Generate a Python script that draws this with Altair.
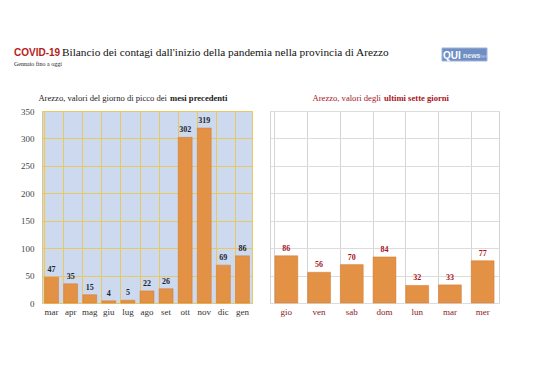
import altair as alt
import pandas as pd

months = ["mar", "apr", "mag", "giu", "lug", "ago", "set", "ott", "nov", "dic", "gen"]
month_vals = [47, 35, 15, 4, 5, 22, 26, 302, 319, 69, 86]
days = ["gio", "ven", "sab", "dom", "lun", "mar", "mer"]
day_vals = [86, 56, 70, 84, 32, 33, 77]
y_ticks = [0, 50, 100, 150, 200, 250, 300, 350]

SERIF = "Liberation Serif"
BAR = "#e39145"
RED = "#a8141c"

dm = pd.DataFrame({"mese": months, "valore": month_vals})
dd = pd.DataFrame({"giorno": days, "valore": day_vals})


def one(t):
    return pd.DataFrame({"t": [t]})


# ---------- left panel ----------
xl = alt.X("mese:N", sort=months, title=None,
           scale=alt.Scale(paddingInner=0.27, paddingOuter=0.135),
           axis=alt.Axis(labelAngle=0, labelFont=SERIF, labelFontSize=9, labelColor="#333",
                         labelPadding=4, ticks=False, domain=False, grid=True, bandPosition=0,
                         gridColor="#e8c860", gridWidth=1))
yl = alt.Y("valore:Q", title=None,
           scale=alt.Scale(domain=[0, 350], nice=False),
           axis=alt.Axis(values=y_ticks, labelFont=SERIF, labelFontSize=9, labelColor="#444",
                         labelOverlap=False, ticks=False, domain=False,
                         gridColor="#e8c860", gridWidth=1, labelPadding=8))

base_l = alt.Chart(dm).encode(x=xl, y=yl)
bars_l = base_l.mark_bar(color=BAR, stroke="#d07a30", strokeWidth=0.5)
lab_l = base_l.mark_text(font=SERIF, fontSize=8, fontWeight="bold", color="#1c2530",
                         baseline="bottom", dy=-3).encode(text="valore:Q")

title_l1 = alt.Chart(one("Arezzo, valori del giorno di picco dei")).mark_text(
    font=SERIF, fontSize=8.6, color="#222", align="right", baseline="alphabetic").encode(
    text="t:N", x=alt.value(125), y=alt.value(-10))
title_l2 = alt.Chart(one("mesi precedenti")).mark_text(
    font=SERIF, fontSize=8.6, fontWeight="bold", color="#222", align="left", baseline="alphabetic").encode(
    text="t:N", x=alt.value(128), y=alt.value(-10))

head1 = alt.Chart(one("COVID-19")).mark_text(
    font="Liberation Sans", fontSize=10, fontWeight="bold", color="#b71c1c", align="left",
    baseline="alphabetic").encode(text="t:N", x=alt.value(-28), y=alt.value(-55))
head2 = alt.Chart(one("Bilancio dei contagi dall'inizio della pandemia nella provincia di Arezzo")).mark_text(
    font=SERIF, fontSize=11.3, color="#111", align="left", baseline="alphabetic").encode(
    text="t:N", x=alt.value(20), y=alt.value(-55))
head3 = alt.Chart(one("Gennaio fino a oggi")).mark_text(
    font=SERIF, fontSize=6, color="#222", align="left", baseline="alphabetic").encode(
    text="t:N", x=alt.value(-28), y=alt.value(-45))

logo_r = alt.Chart(one("")).mark_rect(color="#6f8fc4", stroke="#9fb3d8").encode(
    x=alt.value(400), x2=alt.value(445), y=alt.value(-63), y2=alt.value(-50))
logo_t1 = alt.Chart(one("QUI")).mark_text(
    font="Liberation Sans", fontSize=10, fontWeight="bold", color="white", align="left",
    baseline="alphabetic").encode(text="t:N", x=alt.value(401), y=alt.value(-52))
logo_t2 = alt.Chart(one("news")).mark_text(
    font="Liberation Sans", fontSize=7, fontWeight="bold", color="#e8eef8", align="left",
    baseline="alphabetic").encode(text="t:N", x=alt.value(421), y=alt.value(-53))
logo_t3 = alt.Chart(one("net")).mark_text(
    font="Liberation Sans", fontSize=6, color="#b8c8e6", align="left",
    baseline="alphabetic").encode(text="t:N", x=alt.value(437), y=alt.value(-53))

left = alt.layer(bars_l, lab_l, title_l1, title_l2, head1, head2, head3,
                 logo_r, logo_t1, logo_t2, logo_t3).properties(
    width=210, height=192,
    view=alt.ViewBackground(fill="#cdd9ee", stroke="#e8c860", strokeWidth=1))

# ---------- right panel ----------
xr = alt.X("giorno:N", sort=days, title=None,
           scale=alt.Scale(paddingInner=0.3, paddingOuter=0.15),
           axis=alt.Axis(labelAngle=0, labelFont=SERIF, labelFontSize=9, labelColor="#8b1a1a",
                         labelPadding=4, ticks=False, domain=False, grid=True, bandPosition=0,
                         gridColor="#d4d4d4", gridWidth=1))
yr = alt.Y("valore:Q", title=None,
           scale=alt.Scale(domain=[0, 350], nice=False),
           axis=alt.Axis(values=y_ticks, labels=False, ticks=False, domain=False,
                         gridColor="#dcdcdc", gridWidth=1))

base_r = alt.Chart(dd).encode(x=xr, y=yr)
bars_r = base_r.mark_bar(color=BAR, stroke="#d07a30", strokeWidth=0.5)
lab_r = base_r.mark_text(font=SERIF, fontSize=8, fontWeight="bold", color=RED,
                         baseline="bottom", dy=-3).encode(text="valore:Q")

title_r1 = alt.Chart(one("Arezzo, valori degli")).mark_text(
    font=SERIF, fontSize=8.6, color=RED, align="right", baseline="alphabetic").encode(
    text="t:N", x=alt.value(111), y=alt.value(-10))
title_r2 = alt.Chart(one("ultimi sette giorni")).mark_text(
    font=SERIF, fontSize=8.6, fontWeight="bold", color=RED, align="left", baseline="alphabetic").encode(
    text="t:N", x=alt.value(114), y=alt.value(-10))

right = alt.layer(bars_r, lab_r, title_r1, title_r2).properties(
    width=229, height=192,
    view=alt.ViewBackground(fill="white", stroke="#d4d4d4", strokeWidth=1))

chart = alt.hconcat(left, right, spacing=18, bounds="flush").resolve_scale(
    x="independent", y="independent").properties(
    padding={"left": 5, "top": 38, "right": 5, "bottom": 5},
    background="white")

chart.save("out.html", embed_options={"renderer": "svg", "actions": False})
